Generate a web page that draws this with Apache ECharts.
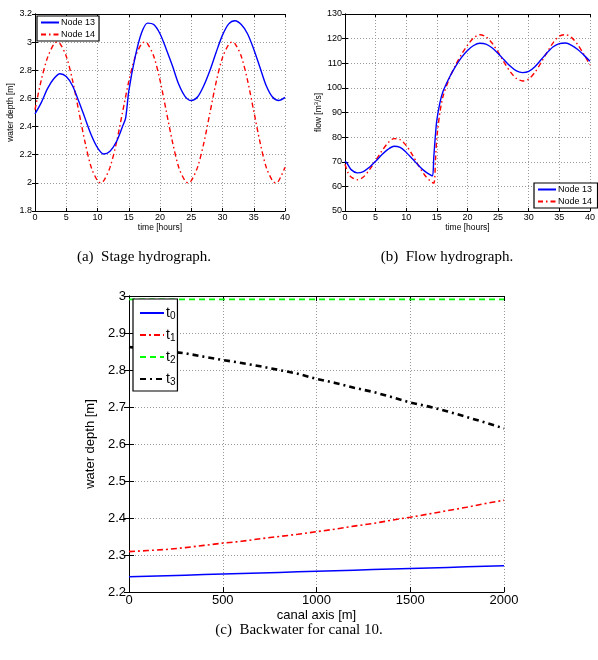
<!DOCTYPE html>
<html>
<head>
<meta charset="utf-8">
<script src="https://cdn.jsdelivr.net/npm/echarts@6/dist/echarts.min.js"></script>
<style>html,body{margin:0;padding:0;background:#fff;}#c{width:598px;height:660px;}</style>
</head>
<body>
<div id="c"></div>
<script>
// ---- (a) Stage hydrograph ----
const stageHours13 = [0,1,2,3,4,5,6,7,8,9,10,11,12,13,14,14.5,15,16,17,18,19,20,21,22,23,24,25,26,27,28,29,30,31,32,33,34,35,36,37,38,39,40];
const stageNode13 = [2.49,2.57,2.67,2.74,2.775,2.755,2.69,2.58,2.46,2.34,2.25,2.205,2.225,2.29,2.40,2.46,2.65,2.89,3.06,3.135,3.125,3.06,2.95,2.83,2.70,2.615,2.585,2.61,2.69,2.80,2.93,3.05,3.13,3.152,3.125,3.06,2.95,2.82,2.69,2.61,2.585,2.607];
const stageHours14 = [0,1,2,3,3.5,4,5,6,7,8,9,10,10.5,11,12,13,14,15,16,17,17.5,18,19,20,21,22,23,24,24.5,25,26,27,28,29,30,31,31.5,32,33,34,35,36,37,38,38.5,39,40];
const stageNode14 = [2.52,2.73,2.89,2.985,3.0,2.99,2.90,2.73,2.51,2.29,2.11,2.015,2.0,2.015,2.11,2.28,2.50,2.72,2.89,2.985,3.0,2.99,2.90,2.73,2.51,2.29,2.11,2.015,2.0,2.015,2.11,2.28,2.50,2.72,2.89,2.985,3.0,2.99,2.90,2.73,2.51,2.29,2.11,2.015,2.0,2.015,2.11];
const stageTicks = {xmin:0,xmax:40,xint:5,ymin:1.8,ymax:3.2,yint:0.2};

// ---- (b) Flow hydrograph ----
const flowHours13 = [0,0.3,1,2,3,4,5,6,7,8,9,10,11,12,13,14,14.3,14.5,14.8,15,15.5,16,17,18,19,20,21,22,23,24,25,26,27,28,29,30,31,32,33,34,35,36,37,38,39,40];
const flowNode13 = [70.2,69.5,66.8,65.5,66.0,67.8,70.2,72.8,75.0,76.3,75.8,73.8,71.2,68.5,66.2,64.6,64.3,72,82,87,94,98.5,104,108.5,112.3,115.2,117.2,118.1,117.8,116.3,114,111.3,108.8,106.9,106.2,106.7,108.6,111.4,114.3,116.7,118.0,118.2,117.3,115.6,113.3,110.8];
const flowHours14 = [0,0.5,1,2,3,4,5,6,7,8,9,10,11,12,13,14,14.5,14.8,15,15.5,16,17,18,19,20,21,22,23,24,25,26,27,28,29,30,31,32,33,34,35,36,37,38,39,40];
const flowNode14 = [69,65.5,63.8,62.7,63.8,66.8,70.5,74.3,77.6,79.4,79.0,76.6,72.8,68.5,64.6,62.0,61.3,72,80,90,96.5,103.5,109,113.5,117.3,120.3,121.6,120.8,118.2,114.5,110.3,106.5,103.8,102.8,103.6,106.3,110.2,114.5,118.4,121,121.6,120.4,117.5,113.6,109.3];
const flowTicks = {xmin:0,xmax:40,xint:5,ymin:50,ymax:130,yint:10};

// ---- (c) Backwater for canal 10 ----
const canalAxis = [0,100,200,300,400,500,600,700,800,900,1000,1100,1200,1300,1400,1500,1600,1700,1800,1900,2000];
const depthT0 = [2.241,2.2425,2.244,2.2455,2.247,2.2485,2.250,2.2515,2.253,2.2545,2.256,2.2575,2.259,2.2605,2.262,2.2635,2.265,2.2665,2.268,2.2695,2.271];
const depthT1 = [2.309,2.312,2.315,2.320,2.326,2.332,2.337,2.344,2.350,2.356,2.363,2.370,2.378,2.385,2.394,2.402,2.411,2.420,2.429,2.439,2.448];
const depthT2 = [2.991,2.991,2.991,2.991,2.991,2.991,2.991,2.991,2.991,2.991,2.991,2.991,2.991,2.991,2.991,2.991,2.991,2.991,2.991,2.991,2.991];
const depthT3 = [2.862,2.857,2.851,2.845,2.836,2.827,2.819,2.810,2.800,2.790,2.776,2.765,2.752,2.741,2.727,2.712,2.701,2.688,2.673,2.658,2.642];
const backTicks = {xmin:0,xmax:2000,xint:500,ymin:2.2,ymax:3.0,yint:0.1};

const captions = ['(a)  Stage hydrograph.', '(b)  Flow hydrograph.', '(c)  Backwater for canal 10.'];

const pairs = (xs, ys) => xs.map((x, i) => [x, ys[i]]);
const FONT = 'Liberation Sans';

function axesFor(gi, t, fs, tickLen, xName, yName, xGap, yGap, nameFs, yRich) {
  const common = {gridIndex: gi, type: 'value'};
  const gridLine = {show: true, lineStyle: {color: '#9a9a9a', type: [1, 2], width: 1}};
  const line = {show: true, lineStyle: {color: '#000', width: 1}};
  const tick = {show: true, inside: true, length: tickLen, lineStyle: {color: '#000'}};
  const fmt = v => String(Math.round(v * 1000) / 1000);
  const xs = [
    Object.assign({}, common, {position: 'bottom', min: t.xmin, max: t.xmax, interval: t.xint,
      axisLine: line, axisTick: tick, splitLine: gridLine,
      axisLabel: {color: '#000', fontFamily: FONT, fontSize: fs, margin: 2, formatter: fmt},
      name: xName, nameLocation: 'middle', nameGap: xGap,
      nameTextStyle: {color: '#000', fontFamily: FONT, fontSize: nameFs}}),
    Object.assign({}, common, {position: 'top', min: t.xmin, max: t.xmax, interval: t.xint,
      axisLine: line, axisTick: tick, splitLine: {show: false}, axisLabel: {show: false}})
  ];
  const ys = [
    Object.assign({}, common, {position: 'left', min: t.ymin, max: t.ymax, interval: t.yint,
      axisLine: line, axisTick: tick, splitLine: gridLine,
      axisLabel: {color: '#000', fontFamily: FONT, fontSize: fs, margin: 3, formatter: fmt},
      name: yName, nameLocation: 'middle', nameGap: yGap,
      nameTextStyle: {color: '#000', fontFamily: FONT, fontSize: nameFs, rich: yRich || {}}}),
    Object.assign({}, common, {position: 'right', min: t.ymin, max: t.ymax, interval: t.yint,
      axisLine: line, axisTick: tick, splitLine: {show: false}, axisLabel: {show: false}})
  ];
  return {xs, ys};
}

const a = axesFor(0, stageTicks, 9, 3, 'time [hours]', 'water depth [m]', 7, 19, 8.5);
const b = axesFor(1, flowTicks, 9, 3, 'time [hours]', 'flow [m{sup|3}/s]', 7, 20, 8.5,
  {sup: {fontSize: 6, verticalAlign: 'top', fontFamily: FONT, color: '#000', padding: [0, 0, 4, 0]}});
const c = axesFor(2, backTicks, 13, 5, 'canal axis [m]', 'water depth [m]', 17, 30, 13);

const xAxis = [...a.xs, ...b.xs, ...c.xs];
const yAxis = [...a.ys, ...b.ys, ...c.ys];

function ser(name, data, xi, yi, color, type, width, z) {
  return {name, type: 'line', xAxisIndex: xi, yAxisIndex: yi, data, showSymbol: false, symbol: 'none',
    smooth: 0.3, lineStyle: {color, type, width}, itemStyle: {color}, z: z || 2, animation: false};
}
const DASHDOT = [5, 3, 1.5, 3];

const series = [
  ser('Node 13', pairs(stageHours13, stageNode13), 0, 0, '#0000ff', 'solid', 1.4, 3),
  ser('Node 14', pairs(stageHours14, stageNode14), 0, 0, '#ff0000', DASHDOT, 1.4, 2),
  ser('Node 13 ', pairs(flowHours13, flowNode13), 2, 2, '#0000ff', 'solid', 1.4, 3),
  ser('Node 14 ', pairs(flowHours14, flowNode14), 2, 2, '#ff0000', DASHDOT, 1.4, 2),
  Object.assign(ser('t0', pairs(canalAxis, depthT0), 4, 4, '#0000ff', 'solid', 1.5), {smooth: false}),
  Object.assign(ser('t1', pairs(canalAxis, depthT1), 4, 4, '#ff0000', [6, 3, 2, 3], 1.6), {smooth: false}),
  Object.assign(ser('t2', pairs(canalAxis, depthT2), 4, 4, '#00ff00', [6, 4], 1.6), {smooth: false}),
  Object.assign(ser('t3', pairs(canalAxis, depthT3), 4, 4, '#000000', [6, 4, 2, 4], 2.6), {smooth: false})
];

const legBox = {backgroundColor: '#fff', borderColor: '#000', borderWidth: 1.2, orient: 'vertical', z: 10,
  itemStyle: {opacity: 0, borderWidth: 0}};
const legend = [
  Object.assign({}, legBox, {data: ['Node 13', 'Node 14'], left: 37, top: 16, padding: [2, 4, 2, 3],
    itemWidth: 18, itemHeight: 8, itemGap: 3,
    textStyle: {fontFamily: FONT, fontSize: 9, color: '#000', padding: [0, 0, 0, -3]}}),
  Object.assign({}, legBox, {data: ['Node 13 ', 'Node 14 '], left: 534, top: 183, padding: [2, 3, 2, 3],
    itemWidth: 18, itemHeight: 8, itemGap: 3,
    textStyle: {fontFamily: FONT, fontSize: 9, color: '#000', padding: [0, 0, 0, -3]}}),
  Object.assign({}, legBox, {data: ['t0', 't1', 't2', 't3'], left: 133, top: 299, padding: [4, 2, 4, 6],
    itemWidth: 24, itemHeight: 14, itemGap: 4,
    formatter: n => 't{s|' + n.slice(1) + '}',
    textStyle: {fontFamily: FONT, fontSize: 14, color: '#000', padding: [0, 0, 0, -3], lineHeight: 16,
      rich: {s: {fontSize: 10, fontFamily: FONT, color: '#000', verticalAlign: 'bottom', lineHeight: 16, padding: [8, 0, 0, 0]}}}})
];

const capStyle = {fontFamily: 'Liberation Serif', fontSize: 15, fill: '#000', textAlign: 'center', textVerticalAlign: 'middle'};
const graphic = [
  {type: 'text', style: Object.assign({}, capStyle, {text: captions[0], x: 144, y: 257})},
  {type: 'text', style: Object.assign({}, capStyle, {text: captions[1], x: 447, y: 257})},
  {type: 'text', style: Object.assign({}, capStyle, {text: captions[2], x: 299, y: 630})}
];

const chart = echarts.init(document.getElementById('c'), null, {renderer: 'canvas'});
chart.setOption({
  backgroundColor: '#fff',
  animation: false,
  grid: [
    {left: 35, top: 14, width: 250, height: 197},
    {left: 345, top: 14, width: 251, height: 197},
    {left: 129, top: 296, width: 375, height: 296}
  ],
  xAxis, yAxis, series, legend, graphic
});
</script>
</body>
</html>
